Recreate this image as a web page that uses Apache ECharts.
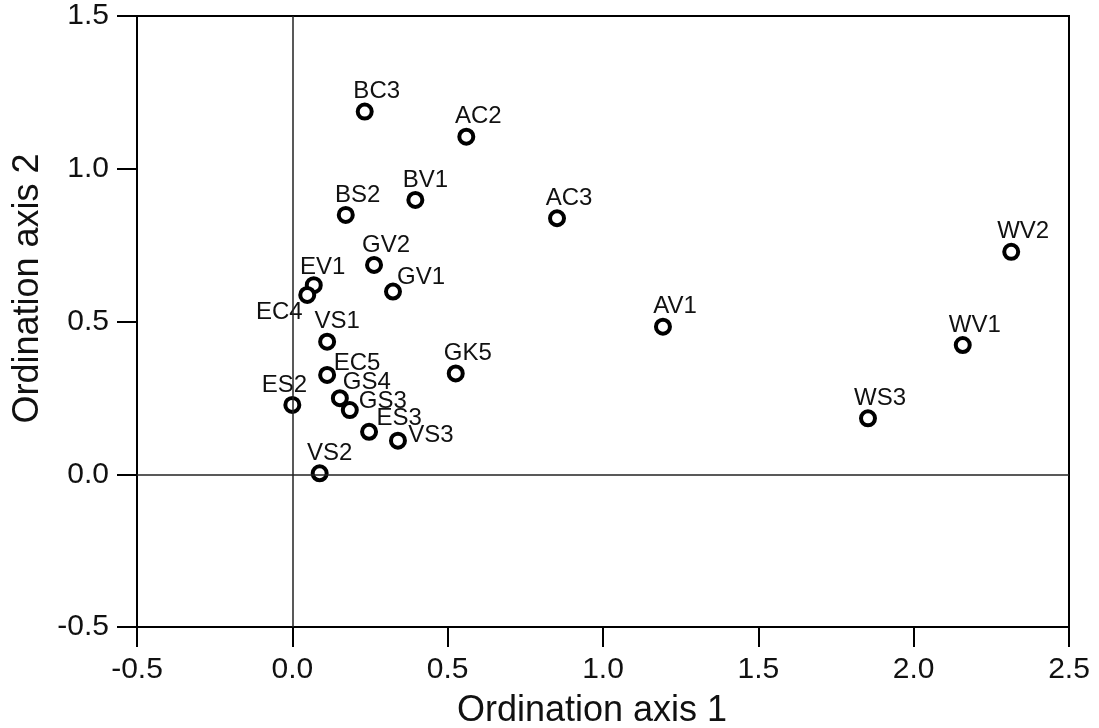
<!DOCTYPE html>
<html>
<head>
<meta charset="utf-8">
<script src="https://cdn.jsdelivr.net/npm/echarts@6/dist/echarts.min.js"></script>
<style>
  html, body { margin: 0; padding: 0; background: #fff; }
  #chart { width: 1099px; height: 728px; }
</style>
</head>
<body>
<div id="chart"></div>
<script>
// Site codes and their scores on the first two ordination axes
const sites = ['BC3', 'AC2', 'BV1', 'BS2', 'AC3', 'GV2', 'GV1', 'EV1', 'EC4', 'VS1', 'EC5',
               'GK5', 'ES2', 'GS4', 'GS3', 'ES3', 'VS3', 'VS2', 'AV1', 'WV2', 'WV1', 'WS3'];
const axis1 = [0.233, 0.560, 0.396, 0.172, 0.852, 0.263, 0.324, 0.069, 0.048, 0.112, 0.112,
               0.526, 0.000, 0.153, 0.185, 0.247, 0.340, 0.088, 1.193, 2.314, 2.158, 1.853];
const axis2 = [1.187, 1.105, 0.898, 0.849, 0.838, 0.685, 0.598, 0.619, 0.587, 0.434, 0.325,
               0.330, 0.227, 0.249, 0.210, 0.139, 0.110, 0.003, 0.483, 0.728, 0.423, 0.183];
const xTicks = [-0.5, 0.0, 0.5, 1.0, 1.5, 2.0, 2.5];
const yTicks = [-0.5, 0.0, 0.5, 1.0, 1.5];

// Label placement (pixel offset of the label centre from its marker)
const defaultOffset = [12, -20];
const labelOffsets = {
  EV1: [9, -18], EC4: [-28, 17], EC5: [30, -12], ES2: [-8, -20],
  GS4: [27, -16], GS3: [33, -9], ES3: [30, -13], VS3: [33, -5],
  GV1: [28, -14], VS1: [10, -20], VS2: [10, -20], BV1: [10, -20]
};

const FONT = '"Liberation Sans", Arial, Helvetica, sans-serif';

const points = sites.map((name, i) => ({
  name: name,
  value: [axis1[i], axis2[i]],
  label: { offset: labelOffsets[name] || defaultOffset }
}));

const chart = echarts.init(document.getElementById('chart'), null, { renderer: 'canvas' });

chart.setOption({
  backgroundColor: '#ffffff',
  animation: false,
  grid: {
    left: 137, top: 16, width: 932, height: 611,
    outerBoundsMode: 'none',
    containLabel: false,
    show: true, borderColor: '#000', borderWidth: 2, backgroundColor: 'transparent'
  },
  xAxis: {
    type: 'value',
    min: xTicks[0], max: xTicks[xTicks.length - 1], interval: 0.5,
    name: 'Ordination axis 1',
    nameLocation: 'middle',
    nameGap: 66,
    nameTextStyle: { fontFamily: FONT, fontSize: 36, color: '#111', padding: [0, 22, 0, 0] },
    axisLine: { show: true, onZero: false, lineStyle: { color: '#000', width: 2 } },
    axisTick: { show: true, inside: false, length: 20, lineStyle: { color: '#000', width: 2 } },
    axisLabel: {
      margin: 28, fontFamily: FONT, fontSize: 30, color: '#111',
      formatter: v => v.toFixed(1)
    },
    splitLine: { show: false }
  },
  yAxis: {
    type: 'value',
    min: yTicks[0], max: yTicks[yTicks.length - 1], interval: 0.5,
    name: 'Ordination axis 2',
    nameLocation: 'middle',
    nameGap: 90,
    nameTextStyle: { fontFamily: FONT, fontSize: 36, color: '#111', padding: [0, 0, 0, 66] },
    axisLine: { show: true, onZero: false, lineStyle: { color: '#000', width: 2 } },
    axisTick: { show: true, inside: false, length: 20, lineStyle: { color: '#000', width: 2 } },
    axisLabel: {
      margin: 28, fontFamily: FONT, fontSize: 30, color: '#111',
      formatter: v => v.toFixed(1)
    },
    splitLine: { show: false }
  },
  series: [
    {
      // reference lines through the origin
      type: 'scatter',
      data: [],
      z: 1,
      silent: true,
      markLine: {
        silent: true,
        symbol: ['none', 'none'],
        label: { show: false },
        lineStyle: { color: '#222', width: 1.5, type: 'solid' },
        data: [{ xAxis: 0 }, { yAxis: 0 }]
      }
    },
    {
      type: 'scatter',
      z: 3,
      symbol: 'circle',
      symbolSize: 14,
      itemStyle: { color: '#fff', borderColor: '#000', borderWidth: 4, opacity: 1 },
      label: {
        show: true,
        position: 'inside',
        align: 'center',
        verticalAlign: 'middle',
        formatter: p => p.name,
        fontFamily: FONT,
        fontSize: 24,
        color: '#111'
      },
      emphasis: { disabled: true },
      data: points
    }
  ]
});
</script>
</body>
</html>
